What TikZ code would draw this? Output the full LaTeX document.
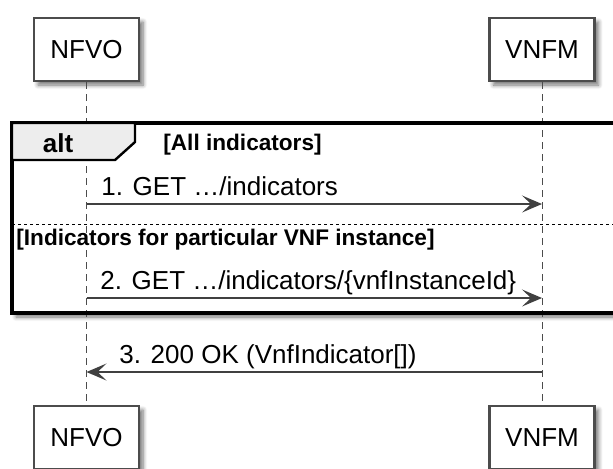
\documentclass[tikz,border=0pt]{standalone}
\usepackage{fontspec}
\setmainfont{Liberation Sans}
\usetikzlibrary{arrows.meta, shadows.blur}

\begin{document}
\begin{tikzpicture}[
  x=0.5pt, y=-0.5pt,
  actor/.style={rectangle, draw=black!70, line width=1.2pt, fill=white,
                minimum width=52.5pt, minimum height=31.5pt, inner sep=0pt,
                font=\fontsize{13pt}{15pt}\selectfont,
                blur shadow={shadow xshift=2pt, shadow yshift=-2pt, shadow blur steps=6, shadow opacity=55}},
  lifeline/.style={black!70, line width=0.5pt, dash pattern=on 3.5pt off 2.5pt},
  msg/.style={black!75, line width=0.7pt, -{Stealth[length=10pt, width=8.5pt, inset=4.5pt]}},
  msglabel/.style={anchor=base west, inner sep=0pt, font=\fontsize{13pt}{15pt}\selectfont},
  guard/.style={anchor=base west, inner sep=0pt, font=\fontsize{11.3pt}{13pt}\selectfont\bfseries}
]
\useasboundingbox (0,0) rectangle (613,468);

% Alt frame background
\path[fill=white, blur shadow={shadow xshift=2pt, shadow yshift=-2pt, shadow blur steps=6, shadow opacity=55}]
  (12,123) rectangle (640,313);

% Participants
\node[actor] (nfvoTop) at (86.5,49.5)  {NFVO};
\node[actor] (vnfmTop) at (542,49.5)   {VNFM};
\node[actor] (nfvoBot) at (86.5,437.5) {NFVO};
\node[actor] (vnfmBot) at (542,437.5)  {VNFM};

% Lifelines
\draw[lifeline] (nfvoTop) -- (nfvoBot);
\draw[lifeline] (vnfmTop) -- (vnfmBot);

% Alt frame
\draw[line width=1.6pt] (12,123) rectangle (640,313);
\draw[line width=1.2pt, fill=black!7] (12,123) -- (135,123) -- (135,142)
  -- (115,160) -- (12,160) -- cycle;
\node[anchor=base, inner sep=0pt, font=\fontsize{13pt}{15pt}\selectfont\bfseries]
  (alt) at (58,152) {alt};
\node[guard] (guardAll) at (163,150) {[All indicators]};
\draw[line width=0.5pt, dash pattern=on 1.5pt off 1.5pt] (12,224) -- (640,224);
\node[guard] (guardOne) at (16,245) {[Indicators for particular VNF instance]};

% Messages
\coordinate (m1s) at (nfvoTop.south |- 0,204);
\coordinate (m1e) at (vnfmTop.south |- 0,204);
\coordinate (m2s) at (nfvoTop.south |- 0,298);
\coordinate (m2e) at (vnfmTop.south |- 0,298);
\coordinate (m3s) at (vnfmTop.south |- 0,372);
\coordinate (m3e) at (nfvoTop.south |- 0,372);
\draw[msg] (m1s) -- (m1e);
\draw[msg] (m2s) -- (m2e);
\draw[msg] (m3s) -- (m3e);
\node[msglabel] (msg1) at (101,195) {1. GET …/indicators};
\node[msglabel] (msg2) at (100,289) {2. GET …/indicators/\{vnfInstanceId\}};
\node[msglabel] (msg3) at (119,363) {3. 200 OK (VnfIndicator[])};
\end{tikzpicture}
\end{document}
